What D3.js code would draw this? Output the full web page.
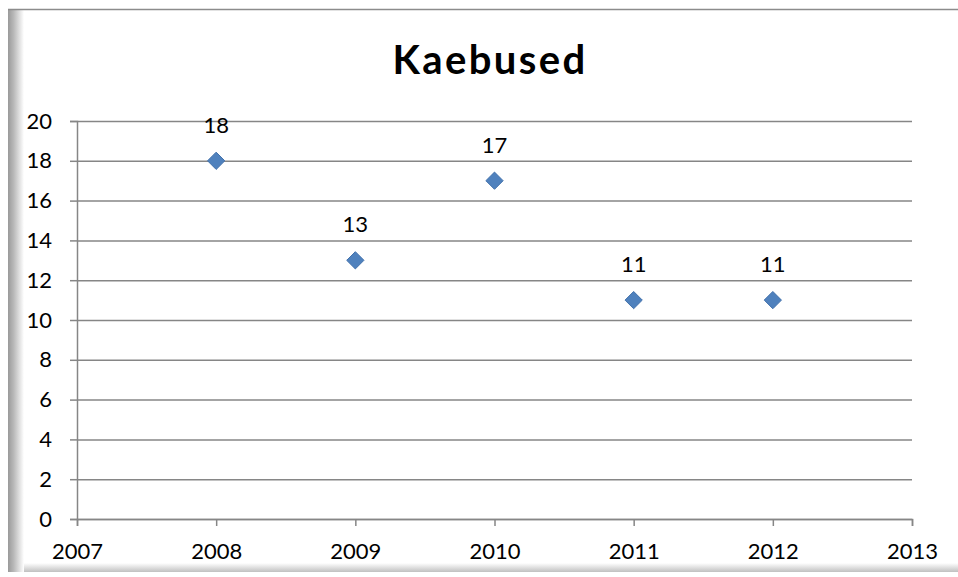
<!DOCTYPE html>
<html>
<head>
<meta charset="utf-8">
<script src="https://cdn.jsdelivr.net/npm/d3@7"></script>
<style>
  html, body { margin: 0; padding: 0; background: #fff; }
  svg text { font-family: Lato, "Open Sans", sans-serif; fill: #000; }
</style>
</head>
<body>
<div id="chart"></div>
<script>
// Kaebused - scatter chart
const years = [2008, 2009, 2010, 2011, 2012];
const counts = [18, 13, 17, 11, 11];
const xTicks = [2007, 2008, 2009, 2010, 2011, 2012, 2013];
const yTicks = [0, 2, 4, 6, 8, 10, 12, 14, 16, 18, 20];
const title = 'Kaebused';

const width = 958, height = 577;
const plot = { left: 77, right: 912, top: 121, bottom: 519 };

const svg = d3.select('#chart').append('svg')
  .attr('width', width)
  .attr('height', height);

const defs = svg.append('defs');
const leftShade = defs.append('linearGradient').attr('id', 'leftShade')
  .attr('x1', 0).attr('x2', 1).attr('y1', 0).attr('y2', 0);
leftShade.append('stop').attr('offset', 0).attr('stop-color', '#9a9a9a');
leftShade.append('stop').attr('offset', 0.35).attr('stop-color', '#b8b8b8');
leftShade.append('stop').attr('offset', 1).attr('stop-color', '#ffffff');
const bottomShade = defs.append('linearGradient').attr('id', 'bottomShade')
  .attr('x1', 0).attr('x2', 0).attr('y1', 0).attr('y2', 1);
bottomShade.append('stop').attr('offset', 0).attr('stop-color', '#ffffff');
bottomShade.append('stop').attr('offset', 1).attr('stop-color', '#c0c0c0');

// frame
svg.append('rect').attr('x', 8).attr('y', 10).attr('width', width - 8).attr('height', 562)
  .attr('fill', '#fff');
svg.append('rect').attr('x', 8).attr('y', 563).attr('width', width - 8).attr('height', 9)
  .attr('fill', 'url(#bottomShade)');
svg.append('rect').attr('x', 8).attr('y', 10).attr('width', 16).attr('height', 562)
  .attr('fill', 'url(#leftShade)');
svg.append('line').attr('x1', 8).attr('x2', width).attr('y1', 9.5).attr('y2', 9.5)
  .attr('stroke', '#8c8c8c').attr('stroke-width', 1.5);

const x = d3.scaleLinear().domain([2007, 2013]).range([plot.left, plot.right]);
const y = d3.scaleLinear().domain([0, 20]).range([plot.bottom, plot.top]);

// gridlines
svg.append('g')
  .attr('transform', 'translate(' + plot.left + ',0)')
  .call(d3.axisLeft(y).tickValues(yTicks).tickSize(-(plot.right - plot.left)).tickFormat(''))
  .call(function(g) {
    g.select('.domain').remove();
    g.selectAll('line').attr('stroke', '#868686').attr('stroke-width', 1.5);
  });

// y axis
svg.append('g')
  .attr('transform', 'translate(' + plot.left + ',0)')
  .call(d3.axisLeft(y).tickValues(yTicks).tickSize(7).tickPadding(18))
  .call(function(g) {
    g.select('.domain').attr('stroke', '#868686').attr('stroke-width', 1.5);
    g.selectAll('line').attr('stroke', '#868686').attr('stroke-width', 1.5);
    g.selectAll('text').attr('font-size', 22).attr('font-family', 'Lato, sans-serif').attr('fill', '#000');
  });

// x axis
svg.append('g')
  .attr('transform', 'translate(0,' + plot.bottom + ')')
  .call(d3.axisBottom(x).tickValues(xTicks).tickFormat(d3.format('d')).tickSize(7).tickPadding(17))
  .call(function(g) {
    g.select('.domain').attr('stroke', '#868686').attr('stroke-width', 1.5);
    g.selectAll('line').attr('stroke', '#868686').attr('stroke-width', 1.5);
    g.selectAll('text').attr('font-size', 22).attr('font-family', 'Lato, sans-serif').attr('fill', '#000');
  });

// title
svg.append('text')
  .attr('x', 490).attr('y', 74)
  .attr('text-anchor', 'middle')
  .attr('font-size', 40).attr('font-weight', 'bold')
  .attr('letter-spacing', 2.4)
  .text(title);

// points
const points = years.map(function(d, i) { return { year: d, value: counts[i] }; });
const diamond = d3.symbol().type(d3.symbolDiamond2).size(190);

svg.append('g').selectAll('path')
  .data(points)
  .enter().append('path')
  .attr('transform', function(d) { return 'translate(' + x(d.year) + ',' + y(d.value) + ')'; })
  .attr('d', diamond)
  .attr('fill', '#4f81bd')
  .attr('stroke', '#4372ac')
  .attr('stroke-width', 1);

// data labels
svg.append('g').selectAll('text')
  .data(points)
  .enter().append('text')
  .attr('x', function(d) { return x(d.year); })
  .attr('y', function(d) { return y(d.value) - 28; })
  .attr('text-anchor', 'middle')
  .attr('font-size', 22)
  .text(function(d) { return d.value; });
</script>
</body>
</html>
